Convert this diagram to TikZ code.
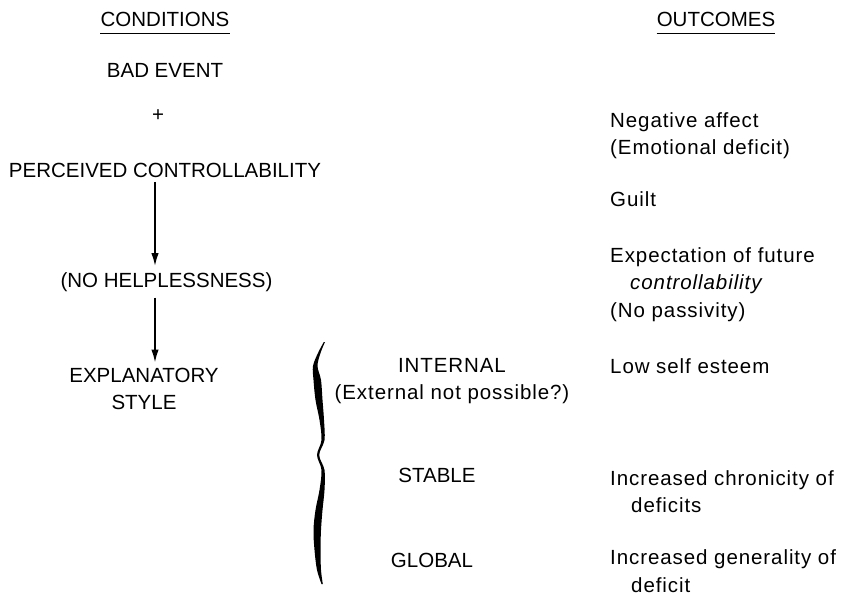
\documentclass[tikz,border=0pt]{standalone}
\usepackage{fontspec}
\setmainfont{Liberation Sans}
\newfontfamily\loosefont[LetterSpace=4.5]{Liberation Sans}
\usetikzlibrary{arrows.meta}
\newcommand\capsize{\fontsize{20.5}{27.5}\selectfont}
\tikzset{
  caps/.style={inner sep=0pt,anchor=north,align=center,font=\capsize},
  loose/.style={inner sep=0pt,align=center,font=\loosefont\capsize},
  outcome/.style={loose,anchor=north west,align=left},
  down/.style={-{Latex[length=13pt,width=7.5pt]},line width=1.6pt}
}
\begin{document}
\begin{tikzpicture}[x=1pt,y=-1pt]
      \useasboundingbox (0,0) rectangle (847,595);
      % conditions column
      \node[caps] (cond) at (165,12) {CONDITIONS};
      \node[caps] (bad) at (165,63) {BAD EVENT};
      \node[caps,anchor=center] (plus) at (158,116) {+};
      \node[caps] (perc) at (165,163) {PERCEIVED CONTROLLABILITY};
      \node[caps] (nohelp) at (166.5,272) {(NO HELPLESSNESS)};
      \node[caps] (expl) at (144,367.5) {EXPLANATORY\\STYLE};
      \draw[line width=1.1pt] ([yshift=-6.5]cond.south west) -- ([yshift=-6.5]cond.south east);
      \draw[down] ([shift={(-10,4)}]perc.south) -- ([shift={(-11.5,-6)}]nohelp.north);
      \draw[down] ([shift={(-11.5,6)}]nohelp.south) -- ([shift={(11,-5)}]expl.north);
      % brace
      \fill plot[smooth,tension=0.55] coordinates {(325,342) (320.5,353) (317.5,366) (321,380) (322.5,400)
        (324,420) (324.5,440) (319.2,455) (324.5,470) (324.5,490) (322.5,510) (321,530) (320.5,550) (321,570) (322.8,584)}
        -- plot[smooth,tension=0.55] coordinates {(321.5,584) (317,570) (314.5,550) (313.5,530) (315.5,510) (319.5,490)
        (321.5,470) (317,455) (321.5,440) (319.5,420) (315.5,400) (313.5,380) (313,366) (318,353) (323.8,342)} -- cycle;
      % dimensions
      \node[loose,anchor=north] (intern) at (452,358) {INTERNAL\\(External not possible?)};
      \node[caps] (stable) at (437,468) {STABLE};
      \node[caps] (global) at (432,553) {GLOBAL};
      % outcomes column
      \node[caps] (outc) at (716,12) {OUTCOMES};
      \draw[line width=1.1pt] ([yshift=-6.5]outc.south west) -- ([yshift=-6.5]outc.south east);
      \node[outcome] (neg) at (610,112) {Negative affect\\(Emotional deficit)};
      \node[outcome] (guilt) at (610,191) {Guilt};
      \node[outcome] (expect) at (610,247) {Expectation of future\\\hspace*{20pt}\textit{controllability}\\(No passivity)};
      \node[outcome] (low) at (610,358) {Low self esteem};
      \node[outcome] (chron) at (610,470) {Increased chronicity of\\\hspace*{21pt}deficits};
      \node[outcome] (gen) at (610,549.5) {Increased generality of\\\hspace*{21pt}deficit};
\end{tikzpicture}
\end{document}
